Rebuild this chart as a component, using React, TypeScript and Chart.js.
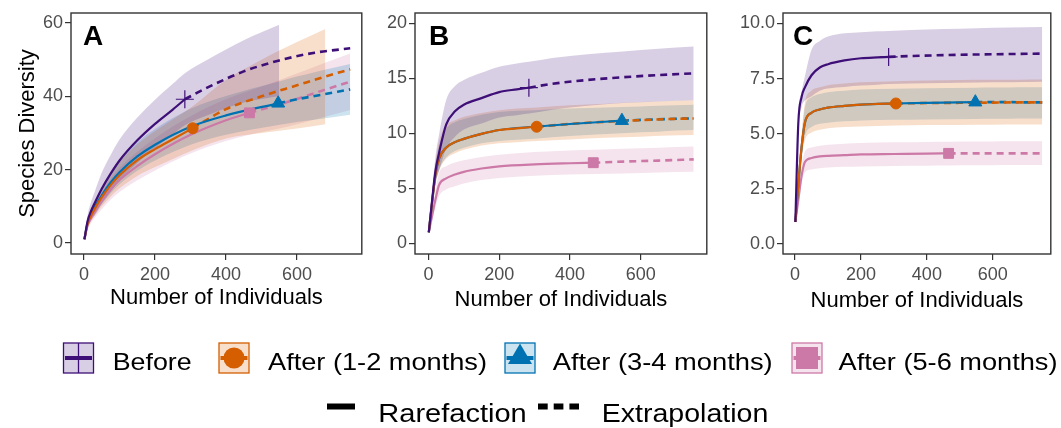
import React, { useEffect, useRef } from 'react';
import { Chart, registerables } from 'chart.js';

Chart.register(...registerables);

const FONT = "'Liberation Sans', Arial, Helvetica, sans-serif";

// ---------- series meta ----------
const seriesNames = ['Before', 'After (1-2 months)', 'After (3-4 months)', 'After (5-6 months)'];
const seriesColors = ['#3f0f78', '#D55E00', '#0072B2', '#CC79A7'];
const seriesMarkers = ['cross', 'circle', 'triangle', 'rect'];
const sampleIndex = [10, 10, 11, 11]; // index of observed sample size in each x array

// ---------- x (number of individuals) ----------
const xBefore = [1, 10, 20, 30, 50, 75, 100, 150, 200, 250, 284, 350, 450, 550, 650, 750];
const xAfter12 = [1, 10, 20, 30, 50, 75, 100, 150, 200, 250, 306, 400, 500, 600, 680, 750];
const xAfter34 = [1, 10, 20, 30, 50, 75, 100, 150, 200, 300, 400, 547, 600, 650, 700, 750];
const xAfter56 = [1, 10, 20, 30, 50, 75, 100, 150, 200, 300, 400, 466, 550, 600, 650, 750];

// ---------- panel A ----------
const aBeforeY = [1, 6, 8.8, 10.9, 14.8, 18.9, 22.5, 28, 32.5, 36.4, 39.2, 42.5, 46.8, 49.8, 51.9, 53.1];
const aBeforeHi = [1, 7.5, 11.3, 14, 19.2, 24, 28.2, 34.2, 39.1, 43.4, 46.3, 50.1, 55.3, 59.5, null, null];
const aBeforeLo = [1, 4.5, 6.3, 7.6, 10.8, 14, 17.2, 21.8, 25.9, 29.6, 32.1, 34.9, 38.3, 40.1, null, null];
const aAfter12Y = [1, 5.2, 7.5, 9.3, 12.5, 15.8, 18.5, 22.6, 25.6, 28.3, 31.3, 36.5, 40, 43, 45.4, 47.4];
const aAfter12Hi = [1, 6.2, 9, 11.2, 15, 18.9, 22.1, 26.9, 30.5, 33.7, 37.3, 44.5, 50, 54.8, 58.4, null];
const aAfter12Lo = [1, 4.2, 6, 7.4, 10, 12.7, 14.9, 18.3, 20.7, 22.9, 25.3, 28.5, 30, 31.2, 32.4, null];
const aAfter34Y = [1, 5.5, 7.9, 9.8, 13, 16.5, 19.3, 23.6, 26.8, 31.7, 34.8, 38.1, 39.2, 40.1, 41, 41.9];
const aAfter34Hi = [1, 6.5, 9.3, 11.6, 15.4, 19.4, 22.6, 27.5, 31.1, 36.6, 40.1, 44, 45.4, 46.6, 47.7, 48.8];
const aAfter34Lo = [1, 4.5, 6.5, 8, 10.6, 13.6, 16, 19.7, 22.5, 26.8, 29.5, 32.2, 33, 33.6, 34.3, 35];
const aAfter56Y = [1, 4.8, 6.9, 8.6, 11.5, 14.6, 17.2, 21, 24.2, 29.5, 33.5, 35.5, 37.8, 39.3, 40.9, 44];
const aAfter56Hi = [1, 5.8, 8.3, 10.3, 13.8, 17.4, 20.5, 24.9, 28.6, 34.6, 39.2, 41.5, 44.4, 46.2, 48.1, 51.7];
const aAfter56Lo = [1, 3.8, 5.5, 6.9, 9.2, 11.8, 13.9, 17.1, 19.8, 24.4, 27.8, 29.5, 31.2, 32.4, 33.7, 36.3];

// ---------- panel B ----------
const bBeforeY = [1, 3.8, 6.6, 8.2, 10.8, 12.0, 12.6, 13.2, 13.75, 14.0, 14.15, 14.5, 14.85, 15.1, 15.3, 15.45];
const bBeforeHi = [1, 4.6, 7.9, 9.9, 13.0, 14.3, 14.85, 15.5, 16.05, 16.35, 16.5, 16.85, 17.2, 17.45, 17.7, 17.9];
const bBeforeLo = [1, 3.1, 5.4, 6.6, 8.6, 9.7, 10.35, 10.9, 11.45, 11.65, 11.8, 12.15, 12.5, 12.75, 12.9, 13.0];
const bAfter12Y = [1, 3.6, 6.3, 7.7, 8.7, 9.2, 9.5, 9.95, 10.3, 10.45, 10.6, 10.85, 11.05, 11.2, 11.3, 11.35];
const bAfter12Hi = [1, 4.2, 7.4, 9.3, 10.7, 11.2, 11.5, 11.85, 12.1, 12.25, 12.35, 12.55, 12.7, 12.85, 12.95, 13.0];
const bAfter12Lo = [1, 3.1, 5.4, 6.6, 7.7, 8.2, 8.5, 8.9, 9.1, 9.2, 9.3, 9.45, 9.6, 9.7, 9.8, 9.85];
const bAfter34Y = [1, 3.6, 6.3, 7.7, 8.7, 9.2, 9.5, 9.95, 10.3, 10.6, 10.85, 11.15, 11.22, 11.28, 11.32, 11.36];
const bAfter34Hi = [1, 4.1, 7.2, 8.9, 10.4, 11, 11.3, 11.7, 11.95, 12.1, 12.25, 12.4, 12.45, 12.5, 12.55, 12.6];
const bAfter34Lo = [1, 3.1, 5.5, 6.7, 7.8, 8.4, 8.7, 9.1, 9.3, 9.5, 9.75, 10.0, 10.1, 10.15, 10.25, 10.3];
const bAfter56Y = [1, 2.45, 4.0, 5.3, 5.9, 6.25, 6.5, 6.8, 7.0, 7.18, 7.28, 7.33, 7.43, 7.48, 7.52, 7.63];
const bAfter56Hi = [1, 2.9, 4.8, 6.4, 7.0, 7.35, 7.55, 7.85, 8.05, 8.3, 8.45, 8.5, 8.6, 8.65, 8.7, 8.8];
const bAfter56Lo = [1, 2.0, 3.3, 4.3, 4.9, 5.2, 5.45, 5.75, 5.95, 6.15, 6.25, 6.3, 6.35, 6.4, 6.45, 6.5];

// ---------- panel C ----------
const cBeforeY = [1, 5.5, 6.67, 7.1, 7.65, 8.0, 8.15, 8.32, 8.42, 8.46, 8.48, 8.52, 8.56, 8.59, 8.61, 8.63];
const cBeforeHi = [1, 5.8, 6.9, 7.6, 8.8, 9.2, 9.4, 9.55, 9.6, 9.64, 9.66, 9.7, 9.74, 9.78, 9.81, 9.84];
const cBeforeLo = [1, 5.2, 6.2, 6.5, 6.7, 6.95, 7.05, 7.12, 7.18, 7.22, 7.25, 7.27, 7.3, 7.32, 7.33, 7.35];
const cAfter12Y = [1, 2.7, 4.4, 5.5, 5.95, 6.1, 6.18, 6.26, 6.32, 6.35, 6.37, 6.39, 6.4, 6.41, 6.42, 6.42];
const cAfter12Hi = [1, 3.0, 5.0, 6.4, 6.95, 7.1, 7.2, 7.28, 7.33, 7.36, 7.38, 7.41, 7.43, 7.44, 7.45, 7.46];
const cAfter12Lo = [1, 2.4, 3.9, 4.7, 5.05, 5.18, 5.25, 5.3, 5.33, 5.35, 5.37, 5.39, 5.4, 5.41, 5.42, 5.42];
const cAfter34Y = [1, 2.7, 4.4, 5.5, 5.95, 6.1, 6.18, 6.26, 6.32, 6.37, 6.4, 6.43, 6.43, 6.43, 6.42, 6.42];
const cAfter34Hi = [1, 2.95, 4.85, 6.2, 6.65, 6.8, 6.88, 6.95, 7.0, 7.04, 7.06, 7.08, 7.09, 7.09, 7.1, 7.1];
const cAfter34Lo = [1, 2.45, 4.0, 4.9, 5.3, 5.45, 5.5, 5.56, 5.6, 5.63, 5.65, 5.67, 5.68, 5.68, 5.69, 5.69];
const cAfter56Y = [1, 2.0, 3.1, 3.72, 3.9, 3.97, 4.0, 4.03, 4.06, 4.08, 4.1, 4.11, 4.11, 4.11, 4.11, 4.11];
const cAfter56Hi = [1, 2.2, 3.5, 4.2, 4.38, 4.45, 4.5, 4.55, 4.58, 4.61, 4.63, 4.64, 4.65, 4.65, 4.66, 4.66];
const cAfter56Lo = [1, 1.8, 2.75, 3.25, 3.38, 3.44, 3.47, 3.5, 3.52, 3.54, 3.55, 3.56, 3.57, 3.57, 3.58, 3.58];

// ---------- ticks ----------
const xTicks = [0, 200, 400, 600];
const yTicksA = [0, 20, 40, 60];
const yTicksB = [0, 5, 10, 15, 20];
const yTicksC = [0, 2.5, 5, 7.5, 10];

const xArrays = [xBefore, xAfter12, xAfter34, xAfter56];

type Series = { y: (number | null)[]; hi: (number | null)[]; lo: (number | null)[] };

const panels = [
  {
    letter: 'A', left: 0, width: 372, yAxisWidth: 71, padRight: 5, letterDx: 12,
    xMin: -36.8, xMax: 782.7, yMin: -3.0, yMax: 62.73, yTicks: yTicksA, decimals: 0,
    yTitle: 'Species Diversity', xTitlePad: 9,
    series: [
      { y: aBeforeY, hi: aBeforeHi, lo: aBeforeLo },
      { y: aAfter12Y, hi: aAfter12Hi, lo: aAfter12Lo },
      { y: aAfter34Y, hi: aAfter34Hi, lo: aAfter34Lo },
      { y: aAfter56Y, hi: aAfter56Hi, lo: aAfter56Lo },
    ] as Series[],
  },
  {
    letter: 'B', left: 372, width: 345, yAxisWidth: 43, padRight: 4, letterDx: 14,
    xMin: -38, xMax: 787, yMin: -0.97, yMax: 20.94, yTicks: yTicksB, decimals: 0,
    yTitle: '', xTitlePad: 7,
    series: [
      { y: bBeforeY, hi: bBeforeHi, lo: bBeforeLo },
      { y: bAfter12Y, hi: bAfter12Hi, lo: bAfter12Lo },
      { y: bAfter34Y, hi: bAfter34Hi, lo: bAfter34Lo },
      { y: bAfter56Y, hi: bAfter56Hi, lo: bAfter56Lo },
    ] as Series[],
  },
  {
    letter: 'C', left: 717, width: 344, yAxisWidth: 66, padRight: 1, letterDx: 10,
    xMin: -36.5, xMax: 776, yMin: -0.45, yMax: 10.47, yTicks: yTicksC, decimals: 1,
    yTitle: '', xTitlePad: 6,
    series: [
      { y: cBeforeY, hi: cBeforeHi, lo: cBeforeLo },
      { y: cAfter12Y, hi: cAfter12Hi, lo: cAfter12Lo },
      { y: cAfter34Y, hi: cAfter34Hi, lo: cAfter34Lo },
      { y: cAfter56Y, hi: cAfter56Hi, lo: cAfter56Lo },
    ] as Series[],
  },
];

function rgba(hex: string, a: number) {
  const n = parseInt(hex.slice(1), 16);
  return `rgba(${(n >> 16) & 255},${(n >> 8) & 255},${n & 255},${a})`;
}

function pts(xs: number[], ys: (number | null)[], from: number, to: number) {
  const out: { x: number; y: number }[] = [];
  for (let i = from; i <= to; i++) {
    const v = ys[i];
    if (v !== null && v !== undefined) out.push({ x: xs[i], y: v });
  }
  return out;
}

const markerRadius: Record<string, number> = { cross: 9, circle: 5.5, triangle: 7.5, rect: 7 };

function Panel({ p }: { p: (typeof panels)[number] }) {
  const ref = useRef<HTMLCanvasElement | null>(null);
  useEffect(() => {
    if (!ref.current) return;
    const datasets: any[] = [];
    p.series.forEach((s, k) => {
      const xs = xArrays[k];
      const c = seriesColors[k];
      datasets.push({
        data: pts(xs, s.hi, 0, xs.length - 1), fill: '+1', backgroundColor: rgba(c, 0.2),
        borderColor: 'rgba(0,0,0,0)', borderWidth: 0, pointRadius: 0, order: 5,
        cubicInterpolationMode: 'monotone',
      });
      datasets.push({
        data: pts(xs, s.lo, 0, xs.length - 1), fill: false,
        borderColor: 'rgba(0,0,0,0)', borderWidth: 0, pointRadius: 0, order: 5,
        cubicInterpolationMode: 'monotone',
      });
    });
    p.series.forEach((s, k) => {
      const xs = xArrays[k];
      const c = seriesColors[k];
      const idx = sampleIndex[k];
      datasets.push({
        data: pts(xs, s.y, idx, xs.length - 1), fill: false, borderColor: c, borderWidth: 2.6,
        borderDash: [7, 5], pointRadius: 0, order: 3, cubicInterpolationMode: 'monotone',
      });
      datasets.push({
        data: pts(xs, s.y, 0, idx), fill: false, borderColor: c, borderWidth: 2.2,
        pointRadius: 0, order: 2, cubicInterpolationMode: 'monotone',
      });
    });
    p.series.forEach((s, k) => {
      const xs = xArrays[k];
      const c = seriesColors[k];
      const idx = sampleIndex[k];
      const st = seriesMarkers[k];
      datasets.push({
        data: [{ x: xs[idx], y: s.y[idx] }], showLine: false, fill: false,
        pointStyle: st, pointRadius: markerRadius[st], pointBackgroundColor: c,
        pointBorderColor: c, pointBorderWidth: st === 'cross' ? 1.2 : 1, order: 1,
      });
    });

    const deco = {
      id: 'deco',
      afterDraw(chart: any) {
        const { ctx, chartArea } = chart;
        const { left, top, right, bottom } = chartArea;
        ctx.save();
        ctx.strokeStyle = '#333333';
        ctx.lineWidth = 1.4;
        ctx.strokeRect(left, top, right - left, bottom - top);
        ctx.fillStyle = '#000';
        ctx.font = `bold 28px ${FONT}`;
        ctx.textBaseline = 'alphabetic';
        ctx.textAlign = 'left';
        ctx.fillText(p.letter, left + p.letterDx, 45);
        ctx.restore();
      },
    };

    const chart = new Chart(ref.current, {
      type: 'line',
      data: { datasets },
      plugins: [deco],
      options: {
        animation: false,
        responsive: false,
        maintainAspectRatio: false,
        events: [],
        layout: { padding: { left: 0, right: p.padRight, top: 13, bottom: 0 } },
        plugins: {
          legend: { display: false },
          tooltip: { enabled: false },
          filler: { drawTime: 'beforeDatasetsDraw' },
        } as any,
        scales: {
          x: {
            type: 'linear',
            min: p.xMin,
            max: p.xMax,
            afterBuildTicks: (s: any) => { s.ticks = xTicks.map((v) => ({ value: v })); },
            afterFit: (s: any) => { s.height = 66; },
            grid: { drawOnChartArea: false, drawTicks: true, tickLength: 6, color: '#333333', lineWidth: 1.2 },
            border: { display: false },
            ticks: { font: { size: 18, family: FONT }, color: '#4d4d4d', padding: 4, maxRotation: 0, autoSkip: false },
            title: { display: true, text: 'Number of Individuals', font: { size: 22, family: FONT }, color: '#000', padding: { top: 0, bottom: p.xTitlePad } },
          },
          y: {
            type: 'linear',
            min: p.yMin,
            max: p.yMax,
            afterBuildTicks: (s: any) => { s.ticks = p.yTicks.map((v) => ({ value: v })); },
            afterFit: (s: any) => { s.width = p.yAxisWidth; },
            grid: { drawOnChartArea: false, drawTicks: true, tickLength: 6, color: '#333333', lineWidth: 1.2 },
            border: { display: false },
            ticks: {
              font: { size: 18, family: FONT }, color: '#4d4d4d', padding: 2, autoSkip: false,
              callback: (v: any) => Number(v).toFixed(p.decimals),
            },
            title: { display: !!p.yTitle, text: p.yTitle, font: { size: 22, family: FONT }, color: '#000', padding: { top: 15, bottom: 0 } },
          },
        },
      } as any,
    });
    return () => chart.destroy();
  }, [p]);
  return (
    <canvas
      ref={ref}
      width={p.width}
      height={320}
      style={{ position: 'absolute', left: p.left, top: 0, width: p.width, height: 320 }}
    />
  );
}

function Legend() {
  const [cB, cO, cBl, cP] = seriesColors;
  const ty = 369.5;
  return (
    <svg width={1061} height={428} style={{ position: 'absolute', left: 0, top: 0 }}>
      {/* Before */}
      <rect x={63.5} y={343} width={30} height={30} fill={rgba(cB, 0.2)} stroke={cB} strokeWidth={1.3} />
      <line x1={65} x2={92} y1={358} y2={358} stroke={cB} strokeWidth={4} />
      <line x1={78.5} x2={78.5} y1={343} y2={373} stroke={cB} strokeWidth={1.3} />
      <text x={112.7} y={ty} fontFamily={FONT} fontSize={24} fill="#000" textLength={79} lengthAdjust="spacingAndGlyphs">{seriesNames[0]}</text>
      {/* After 1-2 */}
      <rect x={219} y={343} width={30} height={30} fill={rgba(cO, 0.2)} stroke={cO} strokeWidth={1.3} />
      <line x1={220.5} x2={247.5} y1={358} y2={358} stroke={cO} strokeWidth={4} />
      <circle cx={234} cy={358} r={10.5} fill={cO} />
      <text x={268} y={ty} fontFamily={FONT} fontSize={24} fill="#000" textLength={219} lengthAdjust="spacingAndGlyphs">{seriesNames[1]}</text>
      {/* After 3-4 */}
      <rect x={505} y={343} width={30} height={30} fill={rgba(cBl, 0.2)} stroke={cBl} strokeWidth={1.3} />
      <line x1={506.5} x2={533.5} y1={358} y2={358} stroke={cBl} strokeWidth={4} />
      <polygon points="520,343.5 508,364 532,364" fill={cBl} />
      <text x={552.7} y={ty} fontFamily={FONT} fontSize={24} fill="#000" textLength={220} lengthAdjust="spacingAndGlyphs">{seriesNames[2]}</text>
      {/* After 5-6 */}
      <rect x={792} y={343} width={30} height={30} fill={rgba(cP, 0.2)} stroke={cP} strokeWidth={1.3} />
      <line x1={793.5} x2={820.5} y1={358} y2={358} stroke={cP} strokeWidth={4} />
      <rect x={796} y={347} width={22} height={22} fill={cP} />
      <text x={838.5} y={ty} fontFamily={FONT} fontSize={24} fill="#000" textLength={219} lengthAdjust="spacingAndGlyphs">{seriesNames[3]}</text>
      {/* line types */}
      <line x1={327} x2={355} y1={406.5} y2={406.5} stroke="#000" strokeWidth={6} />
      <text x={378.3} y={421.7} fontFamily={FONT} fontSize={25} fill="#000" textLength={148.4} lengthAdjust="spacingAndGlyphs">Rarefaction</text>
      <line x1={538} x2={579} y1={406.5} y2={406.5} stroke="#000" strokeWidth={6} strokeDasharray="9.7 6" />
      <text x={601.7} y={421.7} fontFamily={FONT} fontSize={25} fill="#000" textLength={166.6} lengthAdjust="spacingAndGlyphs">Extrapolation</text>
    </svg>
  );
}

export default function App() {
  return (
    <div style={{ position: 'absolute', left: 0, top: 0, width: 1061, height: 428, background: '#fff', overflow: 'hidden' }}>
      {panels.map((p) => (
        <Panel key={p.letter} p={p} />
      ))}
      <Legend />
    </div>
  );
}
